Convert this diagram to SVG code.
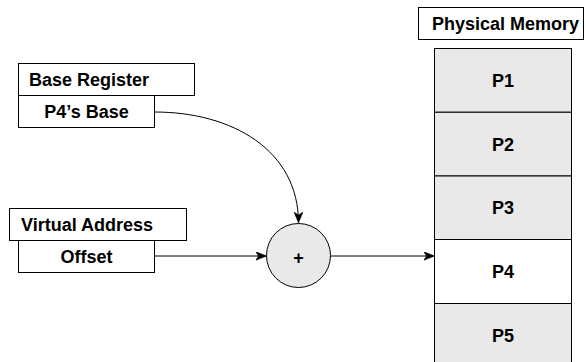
<svg xmlns="http://www.w3.org/2000/svg" width="586" height="362" viewBox="0 0 586 362">
<defs>
<style>
.box{fill:#ffffff;stroke:#000000;stroke-width:1}
.mem{fill:#e9e9e9;stroke:#000000;stroke-width:1}
.t{font-family:"Liberation Sans",Arial,Helvetica,sans-serif;font-weight:bold;font-size:18px;fill:#000000}
.c{text-anchor:middle}
.edge{fill:none;stroke:#000000;stroke-width:1}
</style>
<marker id="arr" markerUnits="userSpaceOnUse" markerWidth="12" markerHeight="10" refX="11" refY="4.5" orient="auto">
<path d="M0,0 L11,4.5 L0,9 L3,4.5 z" fill="#000000" stroke="#000000" stroke-width="0.5"/>
</marker>
</defs>
<rect width="586" height="362" fill="#ffffff"/>
<g id="base-register">
<rect class="box" x="18.5" y="63.5" width="176" height="32"/>
<text class="t" x="29" y="86">Base Register</text>
</g>
<g id="p4-base">
<rect class="box" x="18.5" y="95.5" width="136" height="32"/>
<text class="t c" x="86.5" y="118">P4’s Base</text>
</g>
<g id="virtual-address">
<rect class="box" x="9.5" y="208.5" width="177" height="32"/>
<text class="t" x="21" y="231">Virtual Address</text>
</g>
<g id="offset">
<rect class="box" x="18.5" y="240.5" width="136" height="32"/>
<text class="t c" x="86.5" y="263">Offset</text>
</g>
<g id="adder">
<circle class="mem" cx="298.5" cy="255.5" r="32"/>
<text class="t c" x="298.5" y="264">+</text>
</g>
<g id="physical-memory-label">
<rect class="box" x="418.5" y="7.5" width="165" height="32"/>
<text class="t" x="432" y="30">Physical Memory</text>
</g>
<g id="memory">
<g id="p1"><rect class="mem" x="434.5" y="48.5" width="137" height="63.75"/><text class="t c" x="503" y="86.8">P1</text></g>
<g id="p2"><rect class="mem" x="434.5" y="112.25" width="137" height="63.75"/><text class="t c" x="503" y="150.5">P2</text></g>
<g id="p3"><rect class="mem" x="434.5" y="176" width="137" height="63.5"/><text class="t c" x="503" y="214.2">P3</text></g>
<g id="p4"><rect class="box" x="434.5" y="239.5" width="137" height="64"/><text class="t c" x="503" y="278">P4</text></g>
<g id="p5"><rect class="mem" x="434.5" y="303.5" width="137" height="64"/><text class="t c" x="503" y="342">P5</text></g>
</g>
<g id="connectors">
<path class="edge" d="M154.5,112 C232,112 298.5,150 298.5,223" marker-end="url(#arr)"/>
<path class="edge" d="M154.5,256 L266.5,256" marker-end="url(#arr)"/>
<path class="edge" d="M330.5,256 L434.5,256" marker-end="url(#arr)"/>
</g>
</svg>
